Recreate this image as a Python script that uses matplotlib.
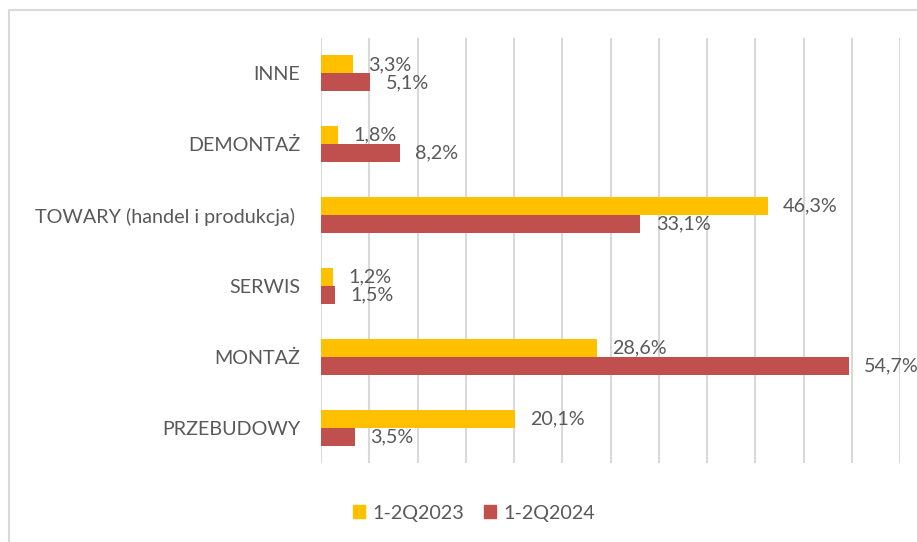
import numpy as np
import matplotlib.pyplot as plt
from matplotlib.patches import Rectangle, Patch

# dane z wykresu
kategorie = ['INNE', 'DEMONTAŻ', 'TOWARY (handel i produkcja) ', 'SERWIS', 'MONTAŻ', 'PRZEBUDOWY']
wart_2023 = [3.3, 1.8, 46.3, 1.2, 28.6, 20.1]
wart_2024 = [5.1, 8.2, 33.1, 1.5, 54.7, 3.5]
serie = ['1-2Q2023', '1-2Q2024']
kolory = ['#FFC000', '#C0504D']
szary = '#595959'
fs = 14.2

plt.rcParams['font.family'] = ['Lato', 'DejaVu Sans']

W, H = 917, 542
fig = plt.figure(figsize=(W / 100, H / 100), dpi=100)
ax = fig.add_axes([321 / W, 1 - 463 / H, (900 - 321) / W, (463 - 38) / H])

# ramka wykresu (przycieta z prawej i od dolu)
fig.patches.append(Rectangle((9 / W, -0.1), 1.2, 1 - 10 / H + 0.1, transform=fig.transFigure,
                             fill=False, edgecolor='#D9D9D9', lw=1.5))

y = np.arange(len(kategorie))
h = 0.255
b1 = ax.barh(y - h / 2, wart_2023, height=h, color=kolory[0], zorder=3)
b2 = ax.barh(y + h / 2, wart_2024, height=h, color=kolory[1], zorder=3)

def fmt(v):
    return f'{v:.1f}%'.replace('.', ',')

ax.bar_label(b1, labels=[fmt(v) for v in wart_2023], padding=11, fontsize=fs, color=szary)
ax.bar_label(b2, labels=[fmt(v) for v in wart_2024], padding=11, fontsize=fs, color=szary)

ax.set_xlim(0, 60)
ax.set_ylim(-0.5, len(kategorie) - 0.5)
ax.invert_yaxis()
ax.set_xticks(np.arange(0, 61, 5))
ax.set_xticklabels([])
ax.set_yticks(y)
ax.set_yticklabels(kategorie, fontsize=fs, color=szary)
ax.tick_params(length=0, pad=15)
ax.grid(axis='x', color='#D9D9D9', lw=1.5, zorder=0)
for s in ax.spines.values():
    s.set_visible(False)

uchwyty = [Patch(color=c, label=s) for c, s in zip(kolory, serie)]
fig.legend(handles=uchwyty, loc='center', bbox_to_anchor=(474 / W, 1 - 513 / H), ncol=2,
           frameon=False, fontsize=fs, labelcolor=szary, handlelength=0.6, handleheight=0.6,
           handletextpad=0.4, columnspacing=1.0)

fig.savefig('out.png', dpi=100)
